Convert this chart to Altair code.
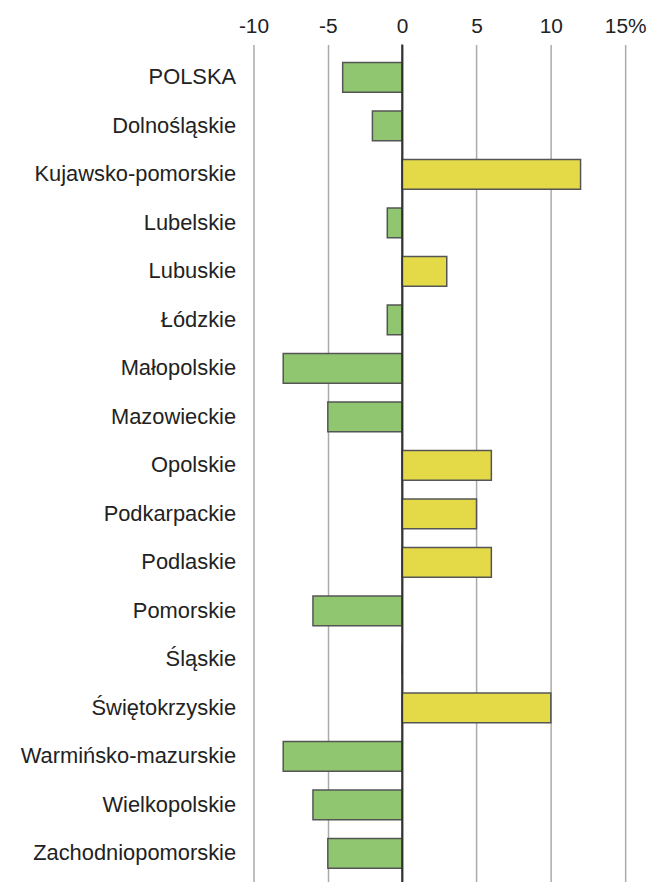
import altair as alt
import pandas as pd

regions = ["POLSKA", "Dolnośląskie", "Kujawsko-pomorskie", "Lubelskie", "Lubuskie",
           "Łódzkie", "Małopolskie", "Mazowieckie", "Opolskie", "Podkarpackie",
           "Podlaskie", "Pomorskie", "Śląskie", "Świętokrzyskie",
           "Warmińsko-mazurskie", "Wielkopolskie", "Zachodniopomorskie"]
values = [-4, -2, 12, -1, 3, -1, -8, -5, 6, 5, 6, -6, 0, 10, -8, -6, -5]
x_ticks = [-10, -5, 0, 5, 10, 15]

df = pd.DataFrame({"region": regions, "value": values})
df["sign"] = ["neg" if v < 0 else "pos" for v in values]

FONT = "Liberation Sans"

base = alt.Chart(df)

bars = base.mark_bar(stroke="#555555", strokeWidth=1.5).encode(
    x=alt.X("value:Q",
            scale=alt.Scale(domain=[-10, 15], nice=False, zero=False),
            axis=alt.Axis(orient="top", values=x_ticks, title=None,
                          domain=False, ticks=False, labelFlush=False,
                          labelExpr="datum.value == 15 ? '\u00a0\u00a0\u00a015%' : '' + datum.value",
                          labelFont=FONT, labelFontSize=21, labelColor="#222222",
                          labelPadding=8,
                          grid=True, gridColor="#aaaaaa", gridWidth=1.5)),
    y=alt.Y("region:N", sort=None,
            scale=alt.Scale(paddingInner=0.385, paddingOuter=0.37),
            axis=alt.Axis(title=None, domain=False, ticks=False, labelLimit=0,
                          labelFont=FONT, labelFontSize=22, labelColor="#222222",
                          labelPadding=18)),
    color=alt.Color("sign:N",
                    scale=alt.Scale(domain=["neg", "pos"], range=["#8fc66f", "#e4da48"]),
                    legend=None),
)

zero = alt.Chart(pd.DataFrame({"z": [0]})).mark_rule(color="#333333", strokeWidth=2).encode(
    x="z:Q"
)

chart = alt.layer(bars, zero).properties(
    width=374, height=847,
    padding={"left": 12, "top": 5, "right": 5, "bottom": 5},
).configure_view(stroke=None)

chart.save("out.html", embed_options={"renderer": "svg", "actions": False})
